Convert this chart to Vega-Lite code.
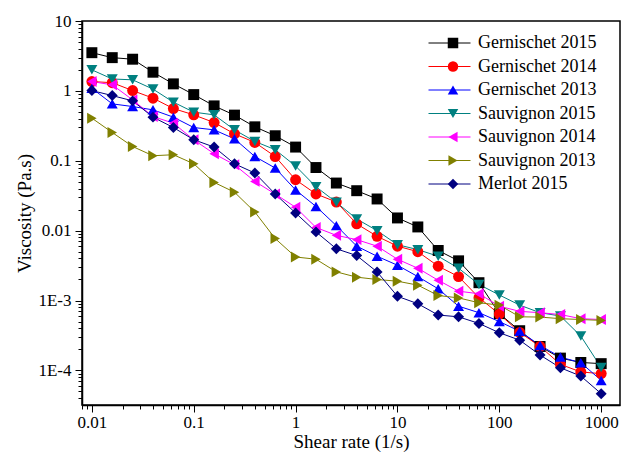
{
  "$schema": "https://vega.github.io/schema/vega-lite/v6.json",
  "width": 538,
  "height": 384,
  "autosize": {"type": "none"},
  "padding": {"left": 82, "top": 21, "right": 2, "bottom": 52},
  "background": "white",
  "config": {
    "view": {"stroke": "black", "strokeWidth": 1.5},
    "font": "Liberation Serif",
    "axis": {
      "grid": false,
      "domainColor": "black",
      "domainWidth": 1.5,
      "tickColor": "black",
      "tickWidth": 1,
      "labelFont": "Liberation Serif",
      "labelFontSize": 17,
      "labelColor": "black",
      "titleFont": "Liberation Serif",
      "titleFontSize": 19,
      "titleFontWeight": "normal",
      "titleColor": "black",
      "labelOverlap": false,
      "labelFlush": false
    },
    "legend": {"labelLimit": 300}
  },
  "data": {
    "values": [
      {"rate": 0.01, "Gernischet 2015": 3.52, "Gernischet 2014": 1.36, "Gernischet 2013": 1.09, "Sauvignon 2015": 2.0, "Sauvignon 2014": 1.36, "Sauvignon 2013": 0.407, "Merlot 2015": 1.01},
      {"rate": 0.01585, "Gernischet 2015": 2.99, "Gernischet 2014": 1.31, "Gernischet 2013": 0.652, "Sauvignon 2015": 1.48, "Sauvignon 2014": 1.22, "Sauvignon 2013": 0.254, "Merlot 2015": 0.857},
      {"rate": 0.02512, "Gernischet 2015": 2.84, "Gernischet 2014": 1.01, "Gernischet 2013": 0.597, "Sauvignon 2015": 1.44, "Sauvignon 2014": 0.744, "Sauvignon 2013": 0.16, "Merlot 2015": 0.72},
      {"rate": 0.03981, "Gernischet 2015": 1.85, "Gernischet 2014": 0.787, "Gernischet 2013": 0.535, "Sauvignon 2015": 1.06, "Sauvignon 2014": 0.43, "Sauvignon 2013": 0.118, "Merlot 2015": 0.421},
      {"rate": 0.0631, "Gernischet 2015": 1.26, "Gernischet 2014": 0.559, "Gernischet 2013": 0.421, "Sauvignon 2015": 0.69, "Sauvignon 2014": 0.345, "Sauvignon 2013": 0.122, "Merlot 2015": 0.299},
      {"rate": 0.1, "Gernischet 2015": 0.885, "Gernischet 2014": 0.454, "Gernischet 2013": 0.299, "Sauvignon 2015": 0.496, "Sauvignon 2014": 0.2, "Sauvignon 2013": 0.0906, "Merlot 2015": 0.2},
      {"rate": 0.1585, "Gernischet 2015": 0.61, "Gernischet 2014": 0.352, "Gernischet 2013": 0.277, "Sauvignon 2015": 0.454, "Sauvignon 2014": 0.126, "Sauvignon 2013": 0.049, "Merlot 2015": 0.157},
      {"rate": 0.2512, "Gernischet 2015": 0.45, "Gernischet 2014": 0.243, "Gernischet 2013": 0.206, "Sauvignon 2015": 0.277, "Sauvignon 2014": 0.0877, "Sauvignon 2013": 0.0355, "Merlot 2015": 0.0906},
      {"rate": 0.3981, "Gernischet 2015": 0.306, "Gernischet 2014": 0.183, "Gernischet 2013": 0.115, "Sauvignon 2015": 0.189, "Sauvignon 2014": 0.0507, "Sauvignon 2013": 0.0185, "Merlot 2015": 0.0667},
      {"rate": 0.631, "Gernischet 2015": 0.228, "Gernischet 2014": 0.115, "Gernischet 2013": 0.0787, "Sauvignon 2015": 0.144, "Sauvignon 2014": 0.0334, "Sauvignon 2013": 0.0077, "Merlot 2015": 0.0334},
      {"rate": 1, "Gernischet 2015": 0.157, "Gernischet 2014": 0.0535, "Gernischet 2013": 0.0382, "Sauvignon 2015": 0.084, "Sauvignon 2014": 0.0216, "Sauvignon 2013": 0.0042, "Merlot 2015": 0.0179},
      {"rate": 1.585, "Gernischet 2015": 0.08, "Gernischet 2014": 0.0335, "Gernischet 2013": 0.0222, "Sauvignon 2015": 0.0425, "Sauvignon 2014": 0.0111, "Sauvignon 2013": 0.0039, "Merlot 2015": 0.0096},
      {"rate": 2.512, "Gernischet 2015": 0.048, "Gernischet 2014": 0.0257, "Gernischet 2013": 0.0118, "Sauvignon 2015": 0.0254, "Sauvignon 2014": 0.00857, "Sauvignon 2013": 0.00257, "Merlot 2015": 0.0055},
      {"rate": 3.981, "Gernischet 2015": 0.0373, "Gernischet 2014": 0.0125, "Gernischet 2013": 0.006, "Sauvignon 2015": 0.0147, "Sauvignon 2014": 0.00744, "Sauvignon 2013": 0.00216, "Merlot 2015": 0.0044},
      {"rate": 6.31, "Gernischet 2015": 0.0284, "Gernischet 2014": 0.0083, "Gernischet 2013": 0.0043, "Sauvignon 2015": 0.01, "Sauvignon 2014": 0.006, "Sauvignon 2013": 0.002, "Merlot 2015": 0.00257},
      {"rate": 10, "Gernischet 2015": 0.0152, "Gernischet 2014": 0.006, "Gernischet 2013": 0.0032, "Sauvignon 2015": 0.0063, "Sauvignon 2014": 0.0039, "Sauvignon 2013": 0.00189, "Merlot 2015": 0.00115},
      {"rate": 15.85, "Gernischet 2015": 0.0113, "Gernischet 2014": 0.005, "Gernischet 2013": 0.0022, "Sauvignon 2015": 0.00535, "Sauvignon 2014": 0.0029, "Sauvignon 2013": 0.00166, "Merlot 2015": 0.0009},
      {"rate": 25.12, "Gernischet 2015": 0.0052, "Gernischet 2014": 0.0031, "Gernischet 2013": 0.00147, "Sauvignon 2015": 0.0043, "Sauvignon 2014": 0.00195, "Sauvignon 2013": 0.00118, "Merlot 2015": 0.00062},
      {"rate": 39.81, "Gernischet 2015": 0.0037, "Gernischet 2014": 0.0022, "Gernischet 2013": 0.00083, "Sauvignon 2015": 0.0029, "Sauvignon 2014": 0.00136, "Sauvignon 2013": 0.00109, "Merlot 2015": 0.000585},
      {"rate": 63.1, "Gernischet 2015": 0.0018, "Gernischet 2014": 0.0011, "Gernischet 2013": 0.00067, "Sauvignon 2015": 0.0017, "Sauvignon 2014": 0.00125, "Sauvignon 2013": 0.00093, "Merlot 2015": 0.00047},
      {"rate": 100, "Gernischet 2015": 0.00065, "Gernischet 2014": 0.00064, "Gernischet 2013": 0.0005, "Sauvignon 2015": 0.0012, "Sauvignon 2014": 0.00083, "Sauvignon 2013": 0.00086, "Merlot 2015": 0.000346},
      {"rate": 158.5, "Gernischet 2015": 0.00037, "Gernischet 2014": 0.00035, "Gernischet 2013": 0.000364, "Sauvignon 2015": 0.00086, "Sauvignon 2014": 0.0007, "Sauvignon 2013": 0.000585, "Merlot 2015": 0.000271},
      {"rate": 251.2, "Gernischet 2015": 0.00022, "Gernischet 2014": 0.00022, "Gernischet 2013": 0.000228, "Sauvignon 2015": 0.00067, "Sauvignon 2014": 0.00067, "Sauvignon 2013": 0.00058, "Merlot 2015": 0.000166},
      {"rate": 398.1, "Gernischet 2015": 0.00015, "Gernischet 2014": 0.000122, "Gernischet 2013": 0.000155, "Sauvignon 2015": 0.0006, "Sauvignon 2014": 0.00063, "Sauvignon 2013": 0.00055, "Merlot 2015": 0.000109},
      {"rate": 631, "Gernischet 2015": 0.00013, "Gernischet 2014": 0.000095, "Gernischet 2013": 0.000129, "Sauvignon 2015": 0.00031, "Sauvignon 2014": 0.00055, "Sauvignon 2013": 0.000535, "Merlot 2015": 0.000083},
      {"rate": 1000, "Gernischet 2015": 0.000125, "Gernischet 2014": 0.00009, "Gernischet 2013": 0.000072, "Sauvignon 2015": 0.00011, "Sauvignon 2014": 0.000535, "Sauvignon 2013": 0.00052, "Merlot 2015": 0.0000465}
    ]
  },
  "transform": [
    {"fold": ["Gernischet 2015", "Gernischet 2014", "Gernischet 2013", "Sauvignon 2015", "Sauvignon 2014", "Sauvignon 2013", "Merlot 2015"], "as": ["series", "viscosity"]},
    {"calculate": "datum.series + ' '", "as": "seriesLine"}
  ],
  "encoding": {
    "x": {
      "field": "rate",
      "type": "quantitative",
      "scale": {"type": "log", "domain": [0.008, 1530], "nice": false},
      "axis": {
        "title": "Shear rate (1/s)",
        "titlePadding": 2,
        "labelPadding": 2,
        "values": [0.008, 0.009, 0.01, 0.02, 0.03, 0.04, 0.05, 0.06, 0.07, 0.08, 0.09, 0.1, 0.2, 0.3, 0.4, 0.5, 0.6, 0.7, 0.8, 0.9, 1, 2, 3, 4, 5, 6, 7, 8, 9, 10, 20, 30, 40, 50, 60, 70, 80, 90, 100, 200, 300, 400, 500, 600, 700, 800, 900, 1000],
        "labelExpr": "abs(log(datum.value)/LN10 - round(log(datum.value)/LN10)) < 0.001 ? format(datum.value, '~g') : ''",
        "tickSize": {"condition": {"test": "abs(log(datum.value)/LN10 - round(log(datum.value)/LN10)) < 0.001", "value": 7}, "value": 4}
      }
    },
    "y": {
      "field": "viscosity",
      "type": "quantitative",
      "scale": {"type": "log", "domain": [0.000032, 10], "nice": false},
      "axis": {
        "title": "Viscosity (Pa.s)",
        "titlePadding": 3,
        "labelPadding": 4,
        "values": [0.00004, 0.00005, 0.00006, 0.00007, 0.00008, 0.00009, 0.0001, 0.0002, 0.0003, 0.0004, 0.0005, 0.0006, 0.0007, 0.0008, 0.0009, 0.001, 0.002, 0.003, 0.004, 0.005, 0.006, 0.007, 0.008, 0.009, 0.01, 0.02, 0.03, 0.04, 0.05, 0.06, 0.07, 0.08, 0.09, 0.1, 0.2, 0.3, 0.4, 0.5, 0.6, 0.7, 0.8, 0.9, 1, 2, 3, 4, 5, 6, 7, 8, 9, 10],
        "labelExpr": "abs(log(datum.value)/LN10 - round(log(datum.value)/LN10)) < 0.001 ? (datum.value >= 0.01 ? format(datum.value, '~g') : replace(format(datum.value, '.0e'), 'e', 'E')) : ''",
        "tickSize": {"condition": {"test": "abs(log(datum.value)/LN10 - round(log(datum.value)/LN10)) < 0.001", "value": 7}, "value": 4}
      }
    }
  },
  "layer": [
    {
      "mark": {"type": "line", "strokeWidth": 1},
      "encoding": {
        "stroke": {
          "field": "seriesLine",
          "type": "nominal",
          "scale": {
            "domain": ["Gernischet 2015 ", "Gernischet 2014 ", "Gernischet 2013 ", "Sauvignon 2015 ", "Sauvignon 2014 ", "Sauvignon 2013 ", "Merlot 2015 "],
            "range": ["#000000", "#ff0000", "#0000ff", "#008080", "#ff00ff", "#808000", "#000080"]
          },
          "legend": {
            "orient": "none",
            "legendX": 346,
            "legendY": 12,
            "title": null,
            "padding": 0,
            "symbolType": "stroke",
            "symbolSize": 1764,
            "symbolStrokeWidth": 1,
            "clipHeight": 20,
            "rowPadding": 3.5,
            "labelExpr": "''",
            "labelFontSize": 18,
            "labelFont": "Liberation Serif"
          }
        }
      }
    },
    {
      "mark": {"type": "point", "filled": true, "opacity": 1, "size": 120, "strokeWidth": 0},
      "encoding": {
        "fill": {
          "field": "series",
          "type": "nominal",
          "scale": {
            "domain": ["Gernischet 2015", "Gernischet 2014", "Gernischet 2013", "Sauvignon 2015", "Sauvignon 2014", "Sauvignon 2013", "Merlot 2015"],
            "range": ["#000000", "#ff0000", "#0000ff", "#008080", "#ff00ff", "#808000", "#000080"]
          },
          "legend": {
            "orient": "none",
            "legendX": 362,
            "legendY": 12,
            "title": null,
            "padding": 0,
            "symbolSize": 110,
            "symbolStrokeWidth": 0,
            "symbolOpacity": 1,
            "clipHeight": 20,
            "rowPadding": 3.5,
            "labelOffset": 16,
            "labelFontSize": 18,
            "labelFont": "Liberation Serif",
            "labelColor": "black"
          }
        },
        "shape": {
          "field": "series",
          "type": "nominal",
          "scale": {
            "domain": ["Gernischet 2015", "Gernischet 2014", "Gernischet 2013", "Sauvignon 2015", "Sauvignon 2014", "Sauvignon 2013", "Merlot 2015"],
            "range": ["square", "circle", "triangle-up", "triangle-down", "triangle-left", "triangle-right", "diamond"]
          },
          "legend": {
            "orient": "none",
            "legendX": 362,
            "legendY": 12,
            "title": null,
            "padding": 0,
            "symbolSize": 110,
            "symbolStrokeWidth": 0,
            "symbolOpacity": 1,
            "clipHeight": 20,
            "rowPadding": 3.5,
            "labelOffset": 16,
            "labelFontSize": 18,
            "labelFont": "Liberation Serif",
            "labelColor": "black"
          }
        }
      }
    }
  ]
}
